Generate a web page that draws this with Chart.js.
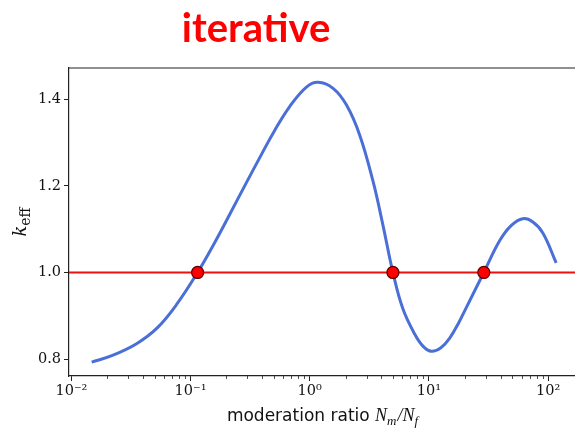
<!DOCTYPE html>
<html>
<head>
<meta charset="utf-8">
<script src="https://cdn.jsdelivr.net/npm/chart.js@4/dist/chart.umd.min.js"></script>
<style>
  html, body { margin: 0; padding: 0; background: #fff; overflow: hidden; }
  #wrap { width: 575px; height: 434px; }
</style>
</head>
<body>
<div id="wrap"><canvas id="keffChart"></canvas></div>
<script>
// k_eff against moderation ratio (log x)
const ratio = [0.0148, 0.0224, 0.0355, 0.0525, 0.0759, 0.1146, 0.158, 0.214, 0.295, 0.398, 0.501, 0.679, 0.938,
               1.175, 1.57, 2.03, 2.62, 3.40, 4.11, 4.99, 6.05, 7.59, 8.91, 10.5, 12.6, 14.9, 17.8, 20.6, 28.9, 39.2, 49.0, 61.4, 74.1, 90.4, 117];
const keff  = [0.793, 0.809, 0.836, 0.872, 0.925, 1.0, 1.067, 1.135, 1.208, 1.275, 1.325, 1.383, 1.428,
               1.439, 1.425, 1.387, 1.318, 1.210, 1.110, 1.0, 0.916, 0.858, 0.830, 0.818, 0.826, 0.848, 0.884, 0.919, 1.0, 1.073, 1.108, 1.124, 1.117, 1.091, 1.022];

// crossings of k_eff = 1
const critRatio = [0.1146, 4.99, 28.9];
const critKeff  = [1.0, 1.0, 1.0];

const xTicks = [0.01, 0.1, 1, 10, 100];
const xTickLabels = ["10⁻²", "10⁻¹", "10⁰", "10¹", "10²"];
const yTicks = [0.8, 1.0, 1.2, 1.4];

const X_MIN = Math.pow(10, -2.02);
const X_MAX = Math.pow(10, 2.226);

const curve = ratio.map((r, i) => ({ x: r, y: keff[i] }));
const crit = critRatio.map((r, i) => ({ x: r, y: critKeff[i] }));

const SERIF = "'DejaVu Serif', serif";
const MATH = "'Liberation Serif', serif";

/**************************************************************
 * extras: top spine, minor ticks, headline, axis titles
 **************************************************************/
const extras = {
  id: "extras",
  afterDraw(chart) {
    const ctx = chart.ctx;
    const area = chart.chartArea;
    const xs = chart.scales.x;

    ctx.save();
    // top spine
    ctx.strokeStyle = "#222";
    ctx.lineWidth = 1.2;
    ctx.beginPath();
    ctx.moveTo(area.left, area.top);
    ctx.lineTo(area.right, area.top);
    ctx.stroke();

    // minor log ticks
    ctx.lineWidth = 0.8;
    for (let d = -3; d <= 2; d++) {
      for (let k = 2; k <= 9; k++) {
        const v = k * Math.pow(10, d);
        if (v < X_MIN || v > X_MAX) continue;
        const px = Math.round(xs.getPixelForValue(v)) + 0.5;
        ctx.beginPath();
        ctx.moveTo(px, area.bottom);
        ctx.lineTo(px, area.bottom + 3);
        ctx.stroke();
      }
    }

    // headline
    ctx.fillStyle = "#ff0000";
    ctx.font = "bold 40px Lato";
    ctx.textAlign = "center";
    ctx.textBaseline = "alphabetic";
    ctx.fillText("iterative", 256, 42);

    // x axis title: moderation ratio N_m/N_f
    const parts = [
      { t: "moderation ratio ", f: "17px 'DejaVu Sans'", dy: 0 },
      { t: "N", f: "italic 18px " + MATH, dy: 0 },
      { t: "m", f: "italic 13px " + MATH, dy: 4 },
      { t: "/", f: "italic 18px " + MATH, dy: 0 },
      { t: "N", f: "italic 18px " + MATH, dy: 0 },
      { t: "f", f: "italic 13px " + MATH, dy: 4 }
    ];
    ctx.fillStyle = "#111";
    ctx.textAlign = "left";
    let total = 0;
    parts.forEach(p => { ctx.font = p.f; p.w = ctx.measureText(p.t).width; total += p.w; });
    let cx = (area.left + area.right) / 2 - total / 2;
    parts.forEach(p => {
      ctx.font = p.f;
      ctx.fillText(p.t, cx, 421 + p.dy);
      cx += p.w + (p.t === "m" ? 1 : 0);
    });

    // y axis title: k_eff
    ctx.translate(26, (area.top + area.bottom) / 2);
    ctx.rotate(-Math.PI / 2);
    ctx.font = "italic 18px " + SERIF;
    const kw = ctx.measureText("k").width;
    ctx.font = "14px " + SERIF;
    const ew = ctx.measureText("eff").width;
    const sx = -(kw + ew) / 2;
    ctx.font = "italic 18px " + SERIF;
    ctx.fillText("k", sx, 0);
    ctx.font = "14px " + SERIF;
    ctx.fillText("eff", sx + kw, 4);
    ctx.restore();
  }
};

window.addEventListener("DOMContentLoaded", () => {
  const ctx = document.getElementById("keffChart").getContext("2d");

  new Chart(ctx, {
    type: "line",
    data: {
      datasets: [
        {
          label: "crit",
          type: "scatter",
          data: crit,
          pointRadius: 6,
          pointBackgroundColor: "#ff0000",
          pointBorderColor: "#5a0000",
          pointBorderWidth: 1.2,
          order: 0
        },
        {
          label: "k=1",
          data: [{ x: X_MIN, y: 1.0 }, { x: X_MAX, y: 1.0 }],
          borderColor: "#ee1111",
          borderWidth: 2,
          pointRadius: 0,
          order: 1
        },
        {
          label: "keff",
          data: curve,
          borderColor: "#4a6fd6",
          borderWidth: 3,
          pointRadius: 0,
          tension: 0.4,
          order: 2
        }
      ]
    },
    options: {
      responsive: true,
      maintainAspectRatio: false,
      animation: false,
      layout: { autoPadding: false, padding: { top: 68, right: 0, left: 0, bottom: 0 } },
      plugins: {
        legend: { display: false },
        tooltip: { enabled: false }
      },
      scales: {
        x: {
          type: "logarithmic",
          min: X_MIN,
          max: X_MAX,
          afterBuildTicks: s => { s.ticks = xTicks.map(v => ({ value: v })); },
          afterFit: s => { s.height = 58; s.paddingLeft = 0; s.paddingRight = 0; },
          ticks: {
            autoSkip: false,
            maxRotation: 0,
            padding: 2,
            color: "#111",
            font: { family: "DejaVu Serif", size: 14.5 },
            callback: (v, i) => xTickLabels[i]
          },
          grid: { drawOnChartArea: false, tickLength: 5, tickColor: "#222", tickWidth: 1 },
          border: { color: "#222", width: 1.2 }
        },
        y: {
          min: 0.761,
          max: 1.472,
          afterBuildTicks: s => { s.ticks = yTicks.map(v => ({ value: v })); },
          afterFit: s => { s.width = 69; s.paddingTop = 0; s.paddingBottom = 0; },
          ticks: {
            padding: 3,
            color: "#111",
            font: { family: "DejaVu Serif", size: 14.5 },
            callback: v => v.toFixed(1)
          },
          grid: { drawOnChartArea: false, tickLength: 5, tickColor: "#222", tickWidth: 1 },
          border: { color: "#222", width: 1.2 }
        }
      }
    },
    plugins: [extras]
  });
});
</script>
</body>
</html>
